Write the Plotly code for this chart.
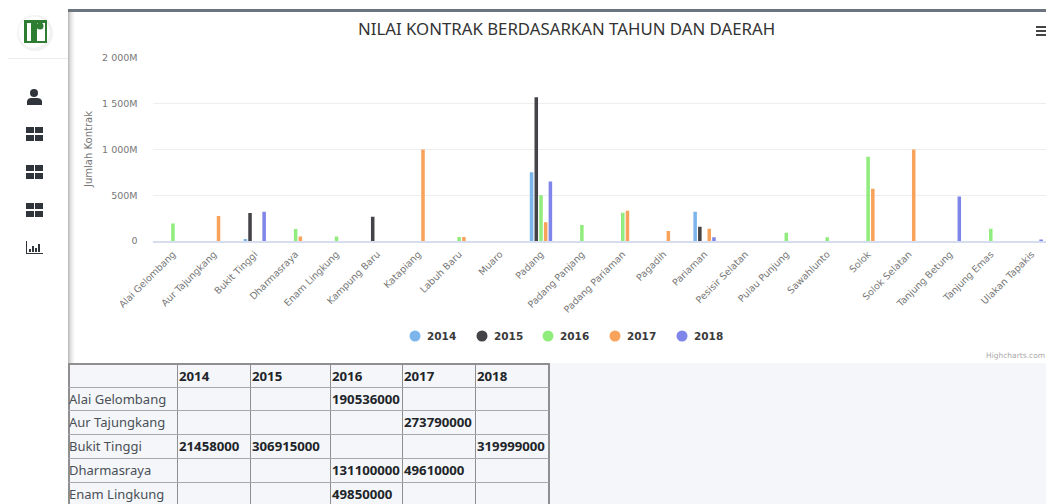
import plotly.graph_objects as go

categories = ["Alai Gelombang","Aur Tajungkang","Bukit Tinggi","Dharmasraya","Enam Lingkung","Kampung Baru","Katapiang","Labuh Baru","Muaro","Padang","Padang Panjang","Padang Pariaman","Pagadih","Pariaman","Pesisir Selatan","Pulau Punjung","Sawahlunto","Solok","Solok Selatan","Tanjung Betung","Tanjung Emas","Ulakan Tapakis"]
N = None
v2014 = [N,N,21458000,N,N,N,N,N,N,750000000,N,N,N,320000000,N,N,N,N,N,N,N,N]
v2015 = [N,N,306915000,N,N,265000000,N,N,N,1570000000,N,N,N,155000000,N,N,N,N,N,N,N,N]
v2016 = [190536000,N,N,131100000,49850000,N,N,45000000,N,500000000,175000000,310000000,N,N,N,90000000,42000000,920000000,N,N,135000000,N]
v2017 = [N,273790000,N,49610000,N,N,1000000000,45000000,N,205000000,N,330000000,110000000,135000000,N,N,N,570000000,1000000000,N,N,N]
v2018 = [N,N,319999000,N,N,N,N,N,N,650000000,N,N,N,40000000,N,N,N,N,N,485000000,N,10000000]
years = ["2014","2015","2016","2017","2018"]
colors = ["#7cb5ec","#434348","#90ed7d","#f7a35c","#8085e9"]
series = [v2014,v2015,v2016,v2017,v2018]
y_ticks = [0,500e6,1000e6,1500e6,2000e6]
y_labels = ["0","500M","1 000M","1 500M","2 000M"]
title = "NILAI KONTRAK BERDASARKAN TAHUN DAN DAERAH"
table_rows = 5

W, H = 1046, 504
px = lambda x: x / W
py = lambda y: 1 - y / H

fig = go.Figure()
for yr, c, s in zip(years, colors, series):
    fig.add_bar(x=categories, y=s, name=yr, marker=dict(color=c, line_width=0), showlegend=False)

def rect(x0, y0, x1, y1, color, layer="below"):
    return dict(type="rect", xref="paper", yref="paper", x0=px(x0), x1=px(x1), y0=py(y0), y1=py(y1),
                fillcolor=color, line_width=0, layer=layer)
def circ(cx, cy, r, color, layer="below"):
    return dict(type="circle", xref="paper", yref="paper", x0=px(cx - r), x1=px(cx + r),
                y0=py(cy + r), y1=py(cy - r), fillcolor=color, line_width=0, layer=layer)
def label(text, x, y, family="Noto Sans", size=13, color="#333333", anchor="left", angle=0):
    return dict(text=text, xref="paper", yref="paper", x=px(x), y=py(y), xanchor=anchor, yanchor="middle",
                showarrow=False, textangle=angle, font=dict(family=family, size=size, color=color),
                borderpad=0, borderwidth=0)

shapes = []
annots = []
# page panels
shapes.append(rect(68, 363, 1046, 504, "#f4f6f9"))
shapes.append(rect(68, 9, 1046, 12, "#6c757d"))
shapes.append(rect(8, 58, 68, 59, "#ececec"))
for i, c in enumerate(["#bdbdbd","#cfcfcf","#dddddd","#e8e8e8","#f0f0f0","#f6f6f6","#fbfbfb"]):
    shapes.append(rect(68 + i, 12, 69 + i, 363, c))
# logo
shapes += [circ(35, 33, 18, "#f2f2f2"), circ(34, 32, 15.5, "#ffffff")]
shapes.append(rect(24, 20, 47, 43, "#2f7d32"))
shapes.append(rect(27, 23, 31, 41, "#ffffff"))
shapes.append(rect(37, 23, 45, 41, "#ffffff"))
shapes.append(circ(40, 26, 3.5, "#2f7d32"))
# sidebar icons
ICON = "#2f353b"
shapes.append(circ(34, 93, 4, ICON))
shapes.append(dict(type="path", xref="paper", yref="paper", fillcolor=ICON, line_width=0,
                   path=f"M {px(27)} {py(105)} L {px(27)} {py(101)} Q {px(28)} {py(98)} {px(31)} {py(98)} L {px(37)} {py(98)} Q {px(41)} {py(98)} {px(42)} {py(101)} L {px(42)} {py(105)} Z"))
for cy in [134, 172, 210]:
    for x0 in [26, 35]:
        for y0 in [cy - 7, cy + 1]:
            shapes.append(rect(x0, y0, x0 + 8, y0 + 6, ICON))
shapes.append(rect(26, 241, 27, 254, ICON))
shapes.append(rect(26, 253, 43, 254, ICON))
for x0, t in [(29, 249), (32, 246), (35, 248), (38, 244)]:
    shapes.append(rect(x0, t, x0 + 2, 252, ICON))
# menu icon
for y0 in [26, 30, 34]:
    shapes.append(rect(1036, y0, 1046, y0 + 2, "#444444"))

# legend
legend_x = [415, 482, 548, 615, 682]
for yr, c, lx in zip(years, colors, legend_x):
    shapes.append(circ(lx, 336, 5.5, c))
    annots.append(label(f"<b>{yr}</b>", lx + 12, 336, "DejaVu Sans", 10.5, "#3a3a3a"))

# table
col_edges = [68, 177, 250, 330, 402, 475, 548]
row_edges = [363, 387, 410, 434, 458, 482, 505]
for x in col_edges:
    w = 2 if x in (68, 548) else 1
    shapes.append(rect(x, 363, x + w, 504, "#8f8f8f", "above"))
for y in row_edges:
    shapes.append(rect(68, y, 549, y + (2 if y == 363 else 1), "#8f8f8f" if y == 363 else "#a8a8a8", "above"))
for j, yr in enumerate(years):
    annots.append(label(f"<b>{yr}</b>", col_edges[j + 1] + 2, 376, size=13.2, color="#212529"))
for i in range(table_rows):
    cy = (row_edges[i + 1] + row_edges[i + 2]) / 2
    annots.append(label(categories[i], 69, cy, color="#4a5056"))
    for j, s in enumerate(series):
        if s[i] is not None:
            annots.append(label(f"<b>{s[i]}</b>", col_edges[j + 1] + 2, cy, size=13.2, color="#212529"))

annots += [
    label(title, 566, 28, size=16.8, color="#333333", anchor="center"),
    label("Highcharts.com", 1045, 355, "DejaVu Sans", 7.5, "#aaaaaa", "right"),
    label("Jumlah Kontrak", 88, 150, "DejaVu Sans", 10, "#777777", "center", -90),
]

fig.update_layout(
    width=W, height=H, autosize=False,
    margin=dict(l=0, r=0, t=0, b=0),
    paper_bgcolor="#ffffff", plot_bgcolor="#ffffff",
    barmode="group", bargap=0.425, bargroupgap=0.25,
    shapes=shapes, annotations=annots, showlegend=False,
    font=dict(family="Noto Sans"),
    xaxis=dict(domain=[px(152.5), 1], range=[-0.5, 21.35], type="category", categoryorder="array",
               categoryarray=categories, tickangle=-45, showgrid=False, linecolor="#d5ddee", linewidth=2,
               ticks="", tickfont=dict(family="DejaVu Sans", size=9.5, color="#777777"), automargin=False,
               ticklabelstandoff=2, tickmode="array", tickvals=categories, ticktext=categories),
    yaxis=dict(domain=[py(241), py(57.5)], range=[0, 2005e6], tickmode="array", tickvals=y_ticks, ticktext=y_labels,
               gridcolor="#eeeeee", gridwidth=1, zeroline=False, showline=False, ticks="", ticklabelstandoff=14,
               tickfont=dict(family="DejaVu Sans", size=9.5, color="#777777"), automargin=False),
)
fig.write_html("out.html", post_script="document.body.style.margin='0';", config=dict(displayModeBar=False))
